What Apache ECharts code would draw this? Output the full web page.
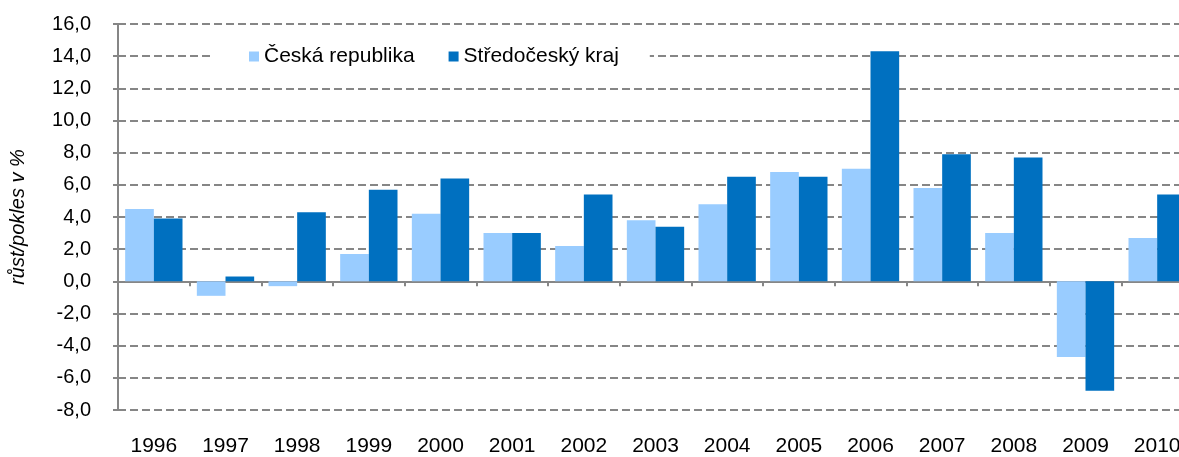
<!DOCTYPE html>
<html><head><meta charset="utf-8">
<script src="https://cdn.jsdelivr.net/npm/echarts@6/dist/echarts.min.js"></script>
<style>html,body{margin:0;padding:0;background:#fff;overflow:hidden;width:1179px;height:457px}#c{width:1193px;height:457px}</style>
</head><body><div id="c"></div>
<script>
const years = ['1996','1997','1998','1999','2000','2001','2002','2003','2004','2005','2006','2007','2008','2009','2010'];
const ceskaRepublika = [4.5,-0.9,-0.3,1.7,4.2,3.0,2.2,3.8,4.8,6.8,7.0,5.8,3.0,-4.7,2.7];
const stredoceskyKraj = [3.9,0.3,4.3,5.7,6.4,3.0,5.4,3.4,6.5,6.5,14.3,7.9,7.7,-6.8,5.4];
const seriesNames = ['Česká republika','Středočeský kraj'];
const yMin = -8, yMax = 16, yStep = 2;

const FONT = 'Liberation Sans, Arial, sans-serif';
const grey = '#868686';
const chart = echarts.init(document.getElementById('c'), null, {renderer:'canvas'});
chart.setOption({
  animation:false,
  backgroundColor:'#fff',
  grid:{left:117, top:24, bottom:47, right:0, containLabel:false},
  legend:{
    data:seriesNames,
    left:212, top:39,
    padding:[7,31,7,37],
    backgroundColor:'#fff',
    itemWidth:10, itemHeight:10, itemGap:34,
    icon:'rect',
    textStyle:{fontFamily:FONT, fontSize:21, color:'#000'}
  },
  xAxis:[{
    type:'category', data:years, position:'bottom',
    axisLine:{show:false, onZero:false}, axisTick:{show:false},
    axisLabel:{fontFamily:FONT, fontSize:21, color:'#000', margin:26}
  },{
    type:'category', data:years, position:'top',
    axisLine:{show:true, onZero:true, lineStyle:{color:grey, width:2}},
    axisTick:{show:true, inside:true, length:5, lineStyle:{color:grey, width:2}},
    axisLabel:{show:false}, splitLine:{show:false}
  }],
  yAxis:{
    type:'value', min:yMin, max:yMax, interval:yStep,
    name:'růst/pokles v %', nameLocation:'middle', nameGap:90, nameRotate:90,
    nameTextStyle:{fontFamily:FONT, fontSize:20, fontStyle:'italic', color:'#000'},
    axisLine:{show:true, lineStyle:{color:grey, width:2}},
    axisTick:{show:true, length:5, lineStyle:{color:grey, width:2}},
    axisLabel:{fontFamily:FONT, fontSize:20, color:'#000', margin:27,
      formatter:v=>v.toFixed(1).replace('.',',')},
    splitLine:{show:true, lineStyle:{color:grey, width:2, type:[8,4]}}
  },
  series:[{
    name:seriesNames[0], type:'bar', data:ceskaRepublika, xAxisIndex:0,
    barGap:'0%', barCategoryGap:'20%', itemStyle:{color:'#99CCFF'}
  },{
    name:seriesNames[1], type:'bar', data:stredoceskyKraj, xAxisIndex:0,
    barGap:'0%', barCategoryGap:'20%', itemStyle:{color:'#0070C0'}
  }]
});
</script></body></html>
